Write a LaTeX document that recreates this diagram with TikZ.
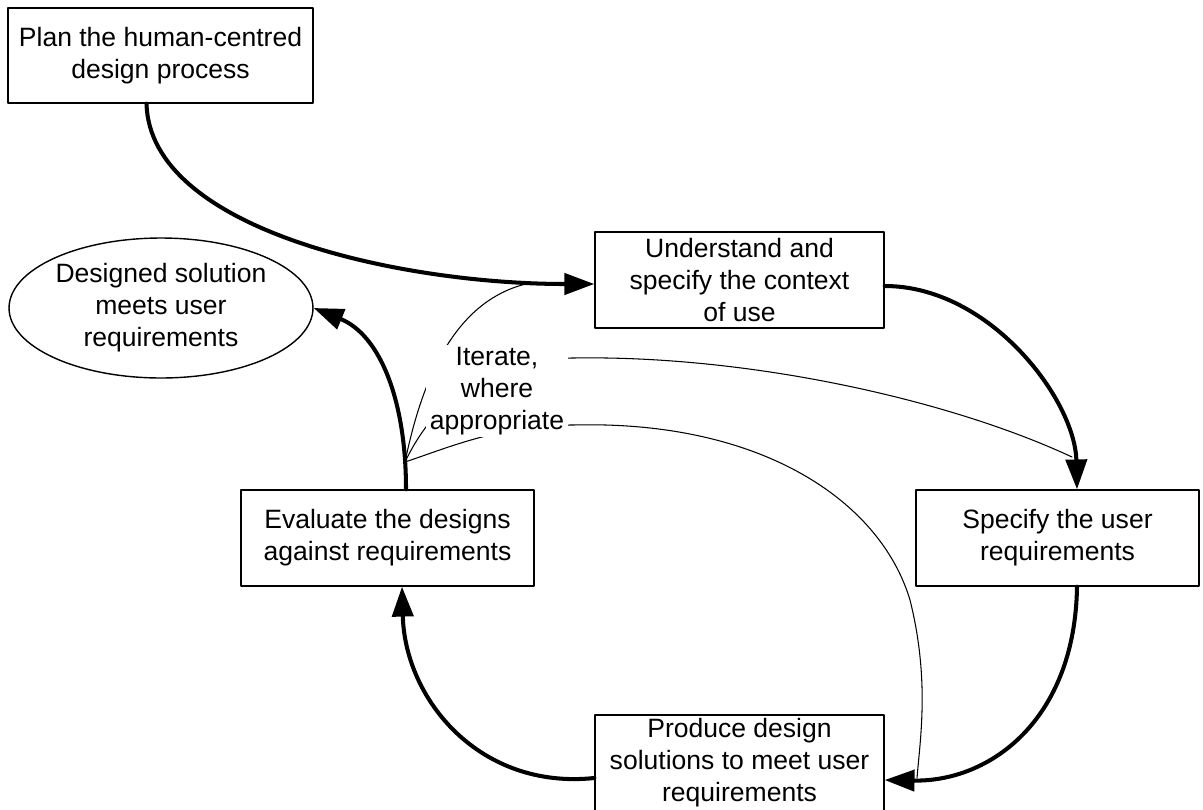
\documentclass[tikz,border=0pt]{standalone}
\usepackage{fontspec}
\setmainfont{Liberation Sans}
\usetikzlibrary{arrows.meta,shapes.geometric,calc}

\begin{document}
\begin{tikzpicture}[x=0.02cm, y=-0.02cm, line cap=round, line join=round,
    font=\fontsize{15.1}{18.2}\selectfont, >={Triangle[length=17pt,width=12pt]}]
  \tikzset{box/.style={draw, line width=0.8pt, align=center, inner sep=0pt, minimum height=1.92cm},
    flow/.style={->, line width=2.3pt},
    iter/.style={line width=0.6pt}}
  \useasboundingbox (0,0) rectangle (1203,809);
  \clip (0,0) rectangle (1203,809);
  % activities
  \node[box, minimum width=6.1cm, minimum height=1.9cm] (plan) at (160.5,55.5) {Plan the human-centred\\design process};
  \node[box, minimum width=5.78cm] (ctx) at (739.5,280) {Understand and\\specify the context\\of use};
  \node[box, minimum width=5.66cm] (req) at (1057.5,538) {Specify the user\\requirements};
  \node[box, minimum width=5.78cm] (prod) at (739.5,763) {Produce design\\solutions to meet user\\requirements};
  \node[box, minimum width=5.86cm] (eval) at (387.5,538) {Evaluate the designs\\against requirements};
  \node[draw, ellipse, line width=0.8pt, align=center, inner sep=0pt, minimum width=6.08cm, minimum height=2.8cm] (goal) at (161,308) {Designed solution\\meets user\\requirements};
  % iteration lines
  \coordinate (J) at (405,462);
  \coordinate (a) at (530,283);
  \coordinate (b) at (1072,457);
  \coordinate (c) at (917,778);
  \draw[iter] (J) .. controls (420,390) and (450,300) .. (a);
  \draw[iter] (J) .. controls (425,420) and (470,358) .. (573,358) .. controls (750,355) and (950,400) .. (b);
  \draw[iter] (J) .. controls (450,447) and (500,425) .. (573,425) .. controls (760,420) and (880,500) .. (910,600) .. controls (930,680) and (920,740) .. (c);
  % main cycle
  \draw[flow] ($(plan.south)+(-14,0)$) .. controls (150,230) and (400,284) .. ($(ctx.west)+(0,4)$);
  \draw[flow] ($(ctx.east)+(0,6)$) .. controls (990,286) and (1075,400) .. ($(req.north)+(19.5,0)$);
  \draw[flow] ($(req.south)+(19.5,0)$) .. controls (1075,720) and (990,782) .. ($(prod.east)+(0,17)$);
  \draw[flow] ($(prod.west)+(0,15)$) .. controls (480,790) and (405,700) .. ($(eval.south)+(14.5,0)$);
  \draw[flow] ($(eval.north)+(18.5,0)$) .. controls (406,400) and (380,335) .. (goal.east);
  \node[fill=white, align=center, inner xsep=2pt, inner ysep=1pt] (note) at (497,391) {Iterate,\\where\\appropriate};
\end{tikzpicture}
\end{document}
